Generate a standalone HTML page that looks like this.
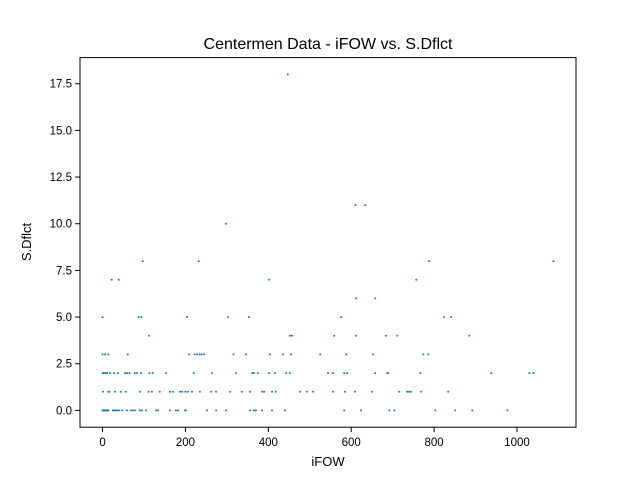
<!DOCTYPE html>
<html><head><meta charset="utf-8">
<style>body{margin:0;background:#fff}svg{display:block;font-family:"Liberation Sans","DejaVu Sans",sans-serif}</style>
</head><body>
<svg id="chart" width="640" height="480" viewBox="0 0 640 480">
<rect x="0" y="0" width="640" height="480" fill="#fff"/>
<text x="328" y="49" font-size="16" text-anchor="middle">Centermen Data - iFOW vs. S.Dflct</text>
<g id="points"></g>
<g id="axes"></g>
<text x="328" y="466" font-size="13" text-anchor="middle">iFOW</text>
<text x="31" y="242" font-size="13" text-anchor="middle" transform="rotate(-90 31 242)">S.Dflct</text>
</svg>
<script>
const xTicks = [0, 200, 400, 600, 800, 1000];
const yTicks = [0, 2.5, 5, 7.5, 10, 12.5, 15, 17.5];
const xs = [447,610,634,298,97,232,788,1088,402,22,39,757,612,658,
0,87,94,204,303,353,576,824,841,
112,452,457,559,612,684,711,885,
0,6,14,61,209,222,228,234,239,245,316,346,404,435,455,525,588,653,774,786,
1,3,7,11,18,28,37,54,59,65,78,83,93,113,121,153,220,264,322,361,365,375,402,416,443,452,544,556,583,590,658,687,689,767,938,1030,1040,
1,14,16,30,44,56,90,111,119,138,163,170,187,192,200,206,216,235,262,274,308,336,356,385,390,409,418,477,493,508,556,585,609,650,716,735,739,744,769,834,
0,2,4,6,8,10,12,14,25,28,32,35,40,47,59,69,73,78,90,95,105,129,134,163,177,182,199,201,252,274,298,356,365,370,385,409,440,583,624,692,704,803,851,892,977];
const ys = [18,11,11,10,8,8,8,8,7,7,7,7,6,6,
5,5,5,5,5,5,5,5,5,
4,4,4,4,4,4,4,4,
3,3,3,3,3,3,3,3,3,3,3,3,3,3,3,3,3,3,3,3,
2,2,2,2,2,2,2,2,2,2,2,2,2,2,2,2,2,2,2,2,2,2,2,2,2,2,2,2,2,2,2,2,2,2,2,2,2,
1,1,1,1,1,1,1,1,1,1,1,1,1,1,1,1,1,1,1,1,1,1,1,1,1,1,1,1,1,1,1,1,1,1,1,1,1,1,1,1,
0,0,0,0,0,0,0,0,0,0,0,0,0,0,0,0,0,0,0,0,0,0,0,0,0,0,0,0,0,0,0,0,0,0,0,0,0,0,0,0,0,0,0,0,0];

const NS = 'http://www.w3.org/2000/svg';
const L = 80, R = 576, T = 57.6, B = 427.2;
const xmin0 = Math.min(...xs), xmax0 = Math.max(...xs);
const ymin0 = Math.min(...ys), ymax0 = Math.max(...ys);
const xpad = (xmax0 - xmin0) * 0.05, ypad = (ymax0 - ymin0) * 0.05;
const xmin = xmin0 - xpad, xmax = xmax0 + xpad, ymin = ymin0 - ypad, ymax = ymax0 + ypad;
function sx(v){ return L + (v - xmin) / (xmax - xmin) * (R - L); }
function sy(v){ return B - (v - ymin) / (ymax - ymin) * (B - T); }

const pg = document.getElementById('points');
for (let i = 0; i < xs.length; i++) {
  const c = document.createElementNS(NS, 'circle');
  c.setAttribute('cx', sx(xs[i]));
  c.setAttribute('cy', sy(ys[i]));
  c.setAttribute('r', 1);
  c.setAttribute('fill', '#1f77b4');
  
  
  pg.appendChild(c);
}

const ag = document.getElementById('axes');
const frame = document.createElementNS(NS, 'rect');
frame.setAttribute('x', L); frame.setAttribute('y', T);
frame.setAttribute('width', R - L); frame.setAttribute('height', B - T);
frame.setAttribute('fill', 'none'); frame.setAttribute('stroke', '#000'); frame.setAttribute('stroke-width', 1);


ag.appendChild(frame);

xTicks.forEach(t => {
  const x = sx(t);
  const ln = document.createElementNS(NS, 'line');
  ln.setAttribute('x1', x); ln.setAttribute('x2', x); ln.setAttribute('y1', B); ln.setAttribute('y2', B + 4.9);
  ln.setAttribute('stroke', '#000');
  
  
  ag.appendChild(ln);
  const tx = document.createElementNS(NS, 'text');
  tx.setAttribute('x', x); tx.setAttribute('y', B + 19); tx.setAttribute('font-size', 11.5);
  tx.setAttribute('text-anchor', 'middle');
  
  
  tx.textContent = String(t);
  ag.appendChild(tx);
});
yTicks.forEach(t => {
  const y = sy(t);
  const ln = document.createElementNS(NS, 'line');
  ln.setAttribute('x1', L - 4.9); ln.setAttribute('x2', L); ln.setAttribute('y1', y); ln.setAttribute('y2', y);
  ln.setAttribute('stroke', '#000');
  
  
  ag.appendChild(ln);
  const tx = document.createElementNS(NS, 'text');
  tx.setAttribute('x', L - 8); tx.setAttribute('y', y + 4); tx.setAttribute('font-size', 11.5);
  tx.setAttribute('text-anchor', 'end');
  
  
  tx.textContent = t.toFixed(1);
  ag.appendChild(tx);
});
</script>
</body></html>
